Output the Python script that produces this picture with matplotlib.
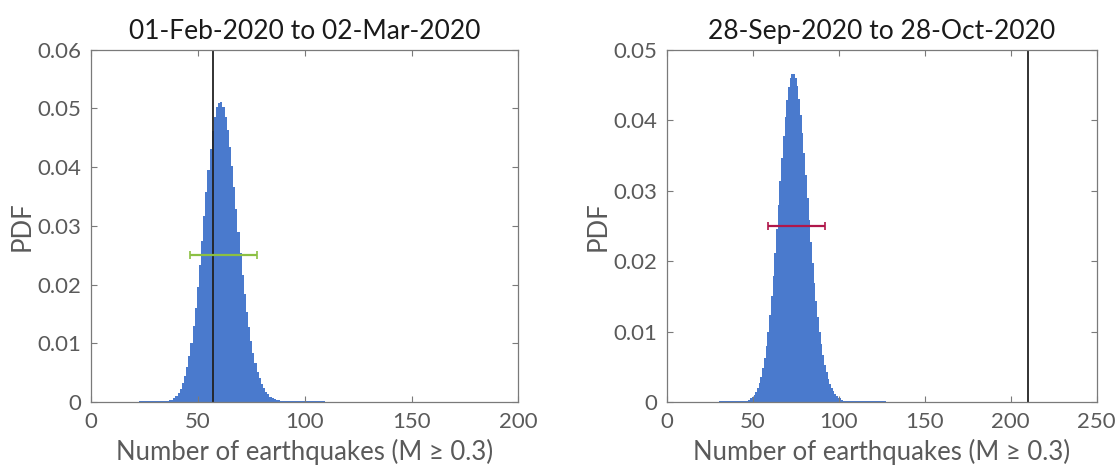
import numpy as np
import matplotlib
matplotlib.use("Agg")
import matplotlib.pyplot as plt

plt.rcParams['font.family'] = ['Lato', 'DejaVu Sans']

# left panel: 01-Feb-2020 to 02-Mar-2020, bins start at 23
feb_start = 23
feb_pdf = [0.0001, 0.0001, 0.0001, 0.0001, 0.0001, 0.0001, 0.0001, 0.0001, 0.0001, 0.0001,
           0.0001, 0.0001, 0.0002, 0.0002, 0.0003, 0.0004, 0.0007, 0.0010, 0.0015, 0.0022,
           0.0032, 0.0044, 0.0059, 0.0078, 0.0101, 0.0129, 0.0160, 0.0196, 0.0234, 0.0275,
           0.0316, 0.0357, 0.0396, 0.0431, 0.0461, 0.0485, 0.0502, 0.0510, 0.0511, 0.0502,
           0.0486, 0.0463, 0.0435, 0.0402, 0.0366, 0.0328, 0.0290, 0.0253, 0.0217, 0.0184,
           0.0154, 0.0127, 0.0103, 0.0083, 0.0066, 0.0051, 0.0040, 0.0030, 0.0023, 0.0017,
           0.0013, 0.0009, 0.0007, 0.0005, 0.0004, 0.0003, 0.0002, 0.0002, 0.0001, 0.0001,
           0.0001, 0.0001, 0.0001, 0.0001, 0.0001, 0.0001, 0.0001, 0.0001, 0.0001, 0.0001,
           0.0001, 0.0001, 0.0001, 0.0001, 0.0001, 0.0001, 0.0001]
feb_observed = 57
feb_range = [46.5, 77.5]

# right panel: 28-Sep-2020 to 28-Oct-2020, bins start at 31
oct_start = 31
oct_pdf = [0.0001, 0.0001, 0.0001, 0.0001, 0.0001, 0.0001, 0.0001, 0.0001, 0.0001, 0.0001,
           0.0001, 0.0001, 0.0001, 0.0001, 0.0001, 0.0002, 0.0002, 0.0003, 0.0005, 0.0007,
           0.0010, 0.0014, 0.0020, 0.0027, 0.0036, 0.0048, 0.0062, 0.0079, 0.0099, 0.0123,
           0.0150, 0.0179, 0.0211, 0.0245, 0.0279, 0.0313, 0.0346, 0.0377, 0.0405, 0.0429,
           0.0447, 0.0460, 0.0466, 0.0466, 0.0460, 0.0448, 0.0430, 0.0408, 0.0382, 0.0353,
           0.0322, 0.0290, 0.0258, 0.0227, 0.0197, 0.0169, 0.0144, 0.0121, 0.0100, 0.0082,
           0.0067, 0.0053, 0.0042, 0.0033, 0.0026, 0.0020, 0.0015, 0.0011, 0.0008, 0.0006,
           0.0005, 0.0003, 0.0002, 0.0002, 0.0001, 0.0001, 0.0001, 0.0001, 0.0001, 0.0001,
           0.0001, 0.0001, 0.0001, 0.0001, 0.0001, 0.0001, 0.0001, 0.0001, 0.0001, 0.0001,
           0.0001, 0.0001, 0.0001, 0.0001, 0.0001, 0.0001, 0.0001]
oct_observed = 210
oct_range = [59, 92]

titles = ['01-Feb-2020 to 02-Mar-2020', '28-Sep-2020 to 28-Oct-2020']
xlims = [200, 250]
ylims = [0.06, 0.05]
bar_color = '#4a7acd'
range_colors = ['#8cc043', '#b0174a']
axis_gray = '#7a7a7a'
label_gray = '#5a5a5a'

fig = plt.figure(figsize=(11.15, 4.74), dpi=100)
ax1 = fig.add_axes([0.0816, 0.152, 0.3834, 0.743])
ax2 = fig.add_axes([0.598, 0.152, 0.3855, 0.743])

panels = [(ax1, feb_start, feb_pdf, feb_observed, feb_range),
          (ax2, oct_start, oct_pdf, oct_observed, oct_range)]

for i, (ax, start, pdf, obs, rng) in enumerate(panels):
    x = np.arange(start, start + len(pdf))
    ax.bar(x, pdf, width=1.0, color=bar_color, linewidth=0)
    ax.axvline(obs, color='#222222', lw=1.3)
    mid = (rng[0] + rng[1]) / 2
    ax.errorbar(mid, 0.025, xerr=[[mid - rng[0]], [rng[1] - mid]], fmt='none',
                ecolor=range_colors[i], elinewidth=1.6, capsize=3, capthick=1.2)
    ax.set_xlim(0, xlims[i])
    ax.set_ylim(0, ylims[i])
    ax.set_xticks(np.arange(0, xlims[i] + 1, 50))
    ax.set_yticks(np.round(np.arange(0, ylims[i] + 0.001, 0.01), 2))
    ax.set_yticklabels(['0'] + ['%.2f' % v for v in np.arange(0.01, ylims[i] + 0.001, 0.01)])
    ax.tick_params(direction='in', top=True, right=True, length=4, width=0.8,
                   color=axis_gray, labelcolor=label_gray, labelsize=16, pad=7)
    for s in ax.spines.values():
        s.set_color(axis_gray)
        s.set_linewidth(0.9)
    ax.set_title(titles[i], fontsize=19, color='#1a1a1a', pad=8)
    ax.set_xlabel('Number of earthquakes (M \u2265 0.3)', fontsize=18.5, color=label_gray,
                  labelpad=5)
    ax.set_ylabel('PDF', fontsize=18.5, color=label_gray, labelpad=2)

fig.savefig('out.png', dpi=100)
